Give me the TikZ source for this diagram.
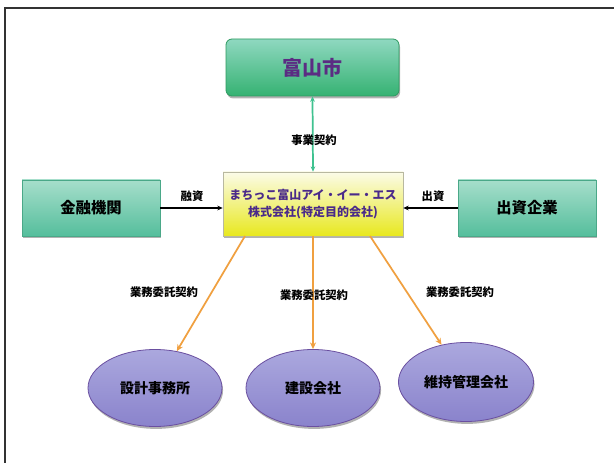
\documentclass[tikz,border=0pt]{standalone}
\usepackage{fontspec}
\setmainfont{Noto Sans CJK JP}
\usetikzlibrary{shapes.geometric,shadows,arrows.meta}
\definecolor{frame}{HTML}{333333}
\definecolor{citytop}{HTML}{8FD8C0}
\definecolor{citybot}{HTML}{35B272}
\definecolor{cityedge}{HTML}{2E9A60}
\definecolor{citytext}{HTML}{5B2C83}
\definecolor{tealtop}{HTML}{A6DECB}
\definecolor{tealbot}{HTML}{55BE9C}
\definecolor{tealedge}{HTML}{4AA888}
\definecolor{spvtop}{HTML}{FBFBE8}
\definecolor{spvbot}{HTML}{E8E81E}
\definecolor{spvedge}{HTML}{B8B8A0}
\definecolor{spvtext}{HTML}{4A2A8A}
\definecolor{elltop}{HTML}{ABA8DE}
\definecolor{ellbot}{HTML}{8A83CC}
\definecolor{elledge}{HTML}{6A4FA0}
\definecolor{greenarr}{HTML}{3FC290}
\definecolor{orangearr}{HTML}{F0A040}
\tikzset{
  shadowed/.style={drop shadow={shadow xshift=0.8pt,shadow yshift=-1.8pt,opacity=0.3,fill=black}},
  citybox/.style={draw=cityedge,line width=0.6pt,rounded corners=4.5pt,top color=citytop,bottom color=citybot,
    minimum width=0.75*173pt,minimum height=0.75*57pt,inner sep=0pt,shadowed,
    font=\fontsize{15}{18}\selectfont\bfseries,text=citytext},
  sidebox/.style={draw=tealedge,line width=0.5pt,top color=tealtop,bottom color=tealbot,
    minimum width=0.75*138pt,minimum height=0.75*56pt,inner sep=0pt,shadowed,
    font=\fontsize{11.5}{14}\selectfont\bfseries,text=black},
  spvbox/.style={draw=spvedge,line width=0.5pt,top color=spvtop,bottom color=spvbot,
    minimum width=0.75*180pt,minimum height=0.75*64pt,inner sep=0pt,shadowed,align=center,
    font=\fontsize{9}{12.8}\selectfont\bfseries,text=spvtext},
  ellnode/.style={ellipse,draw=elledge,line width=0.6pt,top color=elltop,bottom color=ellbot,
    minimum width=0.75*134pt,minimum height=0.75*77pt,inner sep=0pt,shadowed,
    font=\fontsize{10.5}{13}\selectfont\bfseries,text=black},
  lbl/.style={font=\fontsize{8.5}{10}\selectfont\bfseries,text=black,inner sep=1pt},
  greenline/.style={draw=greenarr,line width=1.3pt,{Stealth[length=4pt,width=3.5pt]}-{Stealth[length=4pt,width=3.5pt]}},
  blackline/.style={draw=black,line width=1.1pt,-{Stealth[length=4pt,width=3.5pt]}},
  orangeline/.style={draw=orangearr,line width=1.3pt,-{Stealth[length=5pt,width=4.5pt]}}
}
\begin{document}
\begin{tikzpicture}[x=0.75pt,y=-0.75pt]
\useasboundingbox (0,0) rectangle (614,463);
\fill[white] (0,0) rectangle (614,463);
\draw[frame,line width=1.6pt] (5,470) -- (5,8) -- (620,8);

\node[citybox] (city) at (312.5,67.5) {富山市};
\node[spvbox] (spv) at (313,204) {まちっこ富山アイ・イー・エス\\株式会社(特定目的会社)};
\node[sidebox] (bank) at (91,208) {金融機関};
\node[sidebox] (inv) at (527,208) {出資企業};

\node[ellnode] (e1) at (155,388) {設計事務所};
\node[ellnode] (e2) at (313,388) {建設会社};
\node[ellnode,minimum width=0.75*135pt,minimum height=0.75*79pt] (e3) at (466,382) {維持管理会社};

\draw[greenline] (city.south) -- (spv.north);
\node[lbl] (l0) at (314,140) {事業契約};

\draw[blackline] (bank.east) -- (bank.east -| spv.west);
\node[lbl] (l1) at (192,196) {融資};
\draw[blackline] (inv.west) -- (inv.west -| spv.east);
\node[lbl] (l2) at (433,196) {出資};

\coordinate (s1) at (245,236);
\coordinate (s2) at (313,236);
\coordinate (s3) at (370,236);
\draw[orangeline] (s1) -- (e1);
\draw[orangeline] (s2) -- (e2);
\draw[orangeline] (s3) -- (e3);
\node[lbl] (l3) at (164,292) {業務委託契約};
\node[lbl] (l4) at (314,295) {業務委託契約};
\node[lbl] (l5) at (460,292) {業務委託契約};
\end{tikzpicture}
\end{document}
